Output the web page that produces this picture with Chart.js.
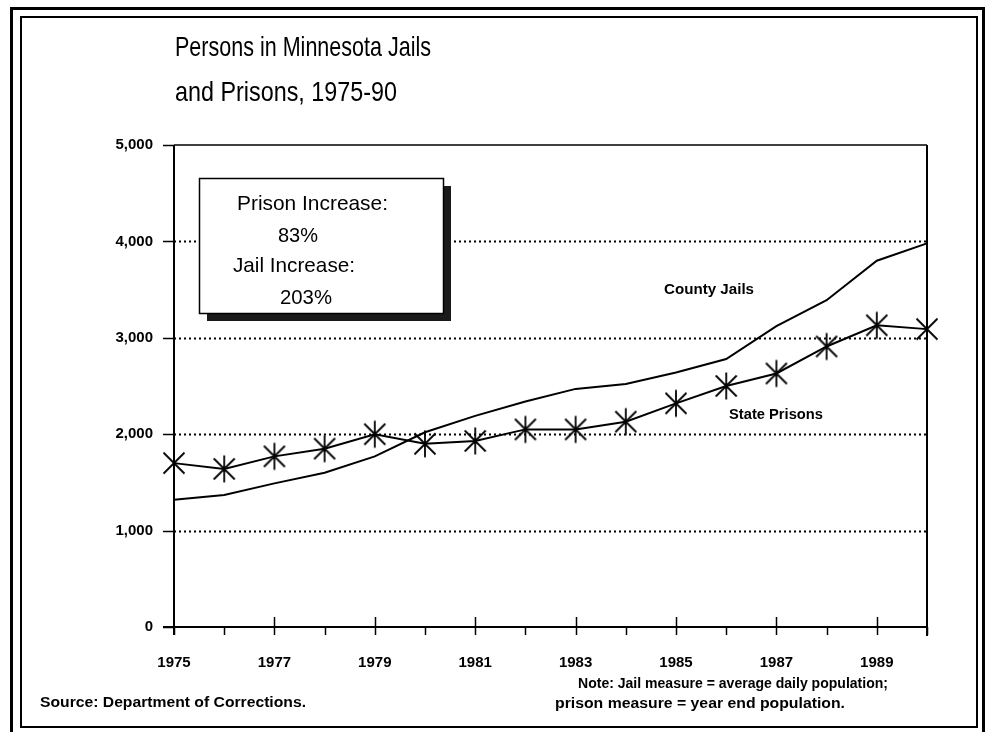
<!DOCTYPE html>
<html>
<head>
<meta charset="utf-8">
<script src="https://cdn.jsdelivr.net/npm/chart.js@4.4.1/dist/chart.umd.min.js"></script>
<style>
  html, body { margin: 0; padding: 0; background: #fff; }
  #wrap { width: 985px; height: 732px; position: relative; }
</style>
</head>
<body>
<div id="wrap"><canvas id="c" width="985" height="732"></canvas></div>
<script>
// ---- Data ----
const years = ['1975','1976','1977','1978','1979','1980','1981','1982','1983','1984','1985','1986','1987','1988','1989','1990'];
const countyJails = [1320, 1370, 1490, 1600, 1770, 2020, 2190, 2340, 2470, 2520, 2640, 2780, 3120, 3390, 3800, 3980];
const statePrisons = [1700, 1640, 1770, 1850, 2000, 1900, 1930, 2050, 2050, 2130, 2320, 2500, 2630, 2910, 3130, 3090];
const yTicks = [0, 1000, 2000, 3000, 4000, 5000];
const gridValues = [1000, 2000, 3000, 4000];
const titleLines = ['Persons in Minnesota Jails', 'and Prisons, 1975-90'];
const boxLines = ['Prison Increase:', '83%', 'Jail Increase:', '203%'];
const seriesNames = ['County Jails', 'State Prisons'];
const sourceText = 'Source: Department of Corrections.';
const noteLines = ['Note: Jail measure = average daily population;', 'prison measure = year end population.'];

const FONT = '"Liberation Sans", Arial, Helvetica, sans-serif';

// asterisk marker
function makeAsterisk() {
  const c = document.createElement('canvas');
  c.width = 30; c.height = 30;
  const g = c.getContext('2d');
  g.strokeStyle = '#000'; g.lineWidth = 1.8; g.lineCap = 'butt';
  g.beginPath();
  g.moveTo(15, 1.5); g.lineTo(15, 28.5);
  g.moveTo(4.5, 4.5); g.lineTo(25.5, 25.5);
  g.moveTo(25.5, 4.5); g.lineTo(4.5, 25.5);
  g.stroke();
  return c;
}

function fitText(ctx, text, x, y, width, font) {
  ctx.save();
  ctx.font = font;
  const m = ctx.measureText(text).width;
  const s = width / m;
  ctx.translate(x, y);
  ctx.scale(s, 1);
  ctx.textAlign = 'left';
  ctx.textBaseline = 'alphabetic';
  ctx.fillStyle = '#000';
  ctx.fillText(text, 0, 0);
  ctx.restore();
}

const decorPlugin = {
  id: 'decor',
  beforeDraw(chart) {
    const ctx = chart.ctx;
    ctx.save();
    ctx.fillStyle = '#fff';
    ctx.fillRect(0, 0, chart.width, chart.height);
    // outer double frame
    ctx.strokeStyle = '#000';
    ctx.lineWidth = 3;
    ctx.strokeRect(11.5, 8.5, 972, 740);
    ctx.lineWidth = 2;
    ctx.strokeRect(21, 17, 956, 710);
    ctx.restore();
  },
  beforeDatasetsDraw(chart) {
    const ctx = chart.ctx;
    const xs = chart.scales.x, ys = chart.scales.y;
    const L = xs.getPixelForValue(0), R = xs.getPixelForValue(years.length - 1);
    const T = ys.getPixelForValue(5000), B = ys.getPixelForValue(0);
    ctx.save();
    ctx.strokeStyle = '#000';
    // dotted gridlines
    ctx.lineWidth = 2;
    ctx.setLineDash([2, 3]);
    gridValues.forEach(v => {
      const y = Math.round(ys.getPixelForValue(v)) + 0.5;
      ctx.beginPath(); ctx.moveTo(L, y); ctx.lineTo(R, y); ctx.stroke();
    });
    ctx.setLineDash([]);
    // y ticks
    ctx.lineWidth = 1.5;
    yTicks.forEach(v => {
      const y = Math.round(ys.getPixelForValue(v)) + 0.5;
      ctx.beginPath(); ctx.moveTo(L - 11, y); ctx.lineTo(L, y); ctx.stroke();
    });
    // top frame line
    ctx.lineWidth = 1.5;
    ctx.beginPath(); ctx.moveTo(L, T); ctx.lineTo(R, T); ctx.stroke();
    // left & right axis lines
    ctx.lineWidth = 2;
    ctx.beginPath(); ctx.moveTo(L, T); ctx.lineTo(L, B + 8); ctx.stroke();
    ctx.beginPath(); ctx.moveTo(R, T); ctx.lineTo(R, B + 9); ctx.stroke();
    // bottom axis
    ctx.lineWidth = 2;
    ctx.beginPath(); ctx.moveTo(L - 11, B); ctx.lineTo(R, B); ctx.stroke();
    // x ticks
    ctx.lineWidth = 1.5;
    years.forEach((yr, i) => {
      const x = Math.round(xs.getPixelForValue(i)) + 0.5;
      const up = (i % 2 === 0 && i > 0 && i < years.length - 1) ? 10 : 0;
      ctx.beginPath(); ctx.moveTo(x, B - up); ctx.lineTo(x, B + 8); ctx.stroke();
    });
    // annotation box with shadow
    const bx = 199, by = 178, bw = 244, bh = 135;
    ctx.fillStyle = '#1a1a1a';
    ctx.fillRect(bx + 8, by + 8, bw, bh);
    ctx.fillStyle = '#fff';
    ctx.fillRect(bx, by, bw, bh);
    ctx.strokeStyle = '#000';
    ctx.lineWidth = 1.5;
    ctx.strokeRect(bx + 0.5, by + 0.5, bw, bh);
    ctx.restore();
  },
  afterDatasetsDraw(chart) {
    const ctx = chart.ctx;
    // title
    fitText(ctx, titleLines[0], 175, 56, 256, '28px ' + FONT);
    fitText(ctx, titleLines[1], 175, 101, 222, '28px ' + FONT);
    // box text
    fitText(ctx, boxLines[0], 237, 210, 151, '21px ' + FONT);
    fitText(ctx, boxLines[1], 278, 242, 40, '21px ' + FONT);
    fitText(ctx, boxLines[2], 233, 272, 122, '21px ' + FONT);
    fitText(ctx, boxLines[3], 280, 304, 52, '21px ' + FONT);
    // series labels
    fitText(ctx, seriesNames[0], 664, 294, 90, 'bold 15px ' + FONT);
    fitText(ctx, seriesNames[1], 729, 419, 94, 'bold 15px ' + FONT);
    // footnotes
    fitText(ctx, sourceText, 40, 707, 266, 'bold 14px ' + FONT);
    fitText(ctx, noteLines[0], 578, 688, 310, 'bold 14px ' + FONT);
    fitText(ctx, noteLines[1], 555, 708, 290, 'bold 14px ' + FONT);
  }
};

const asterisk = makeAsterisk();

new Chart(document.getElementById('c'), {
  type: 'line',
  data: {
    labels: years,
    datasets: [
      {
        label: seriesNames[0],
        data: countyJails,
        borderColor: '#000',
        borderWidth: 2,
        pointRadius: 0,
        tension: 0,
        fill: false
      },
      {
        label: seriesNames[1],
        data: statePrisons,
        borderColor: '#000',
        borderWidth: 2,
        pointStyle: asterisk,
        pointRadius: 13,
        tension: 0,
        fill: false
      }
    ]
  },
  options: {
    responsive: false,
    animation: false,
    devicePixelRatio: 1,
    layout: { padding: { left: 0, top: 145, right: 58, bottom: 0 } },
    plugins: { legend: { display: false }, tooltip: { enabled: false }, title: { display: false } },
    scales: {
      x: {
        type: 'category',
        offset: false,
        grid: { display: false },
        border: { display: false },
        afterFit(s) { s.height = 105; },
        ticks: {
          autoSkip: false,
          maxRotation: 0,
          padding: 19,
          color: '#000',
          font: { family: FONT, size: 15, weight: 'bold' },
          callback(v, i) { return (i % 2 === 0 && i < years.length - 1) ? years[i] : ''; }
        }
      },
      y: {
        min: 0, max: 5000,
        grid: { display: false },
        border: { display: false },
        afterFit(s) { s.width = 174; },
        afterBuildTicks(s) { s.ticks = yTicks.map(v => ({ value: v })); },
        ticks: {
          padding: 13,
          color: '#000',
          font: { family: FONT, size: 15, weight: 'bold' },
          callback(v) { return v.toLocaleString('en-US'); }
        }
      }
    }
  },
  plugins: [decorPlugin]
});
</script>
</body>
</html>
